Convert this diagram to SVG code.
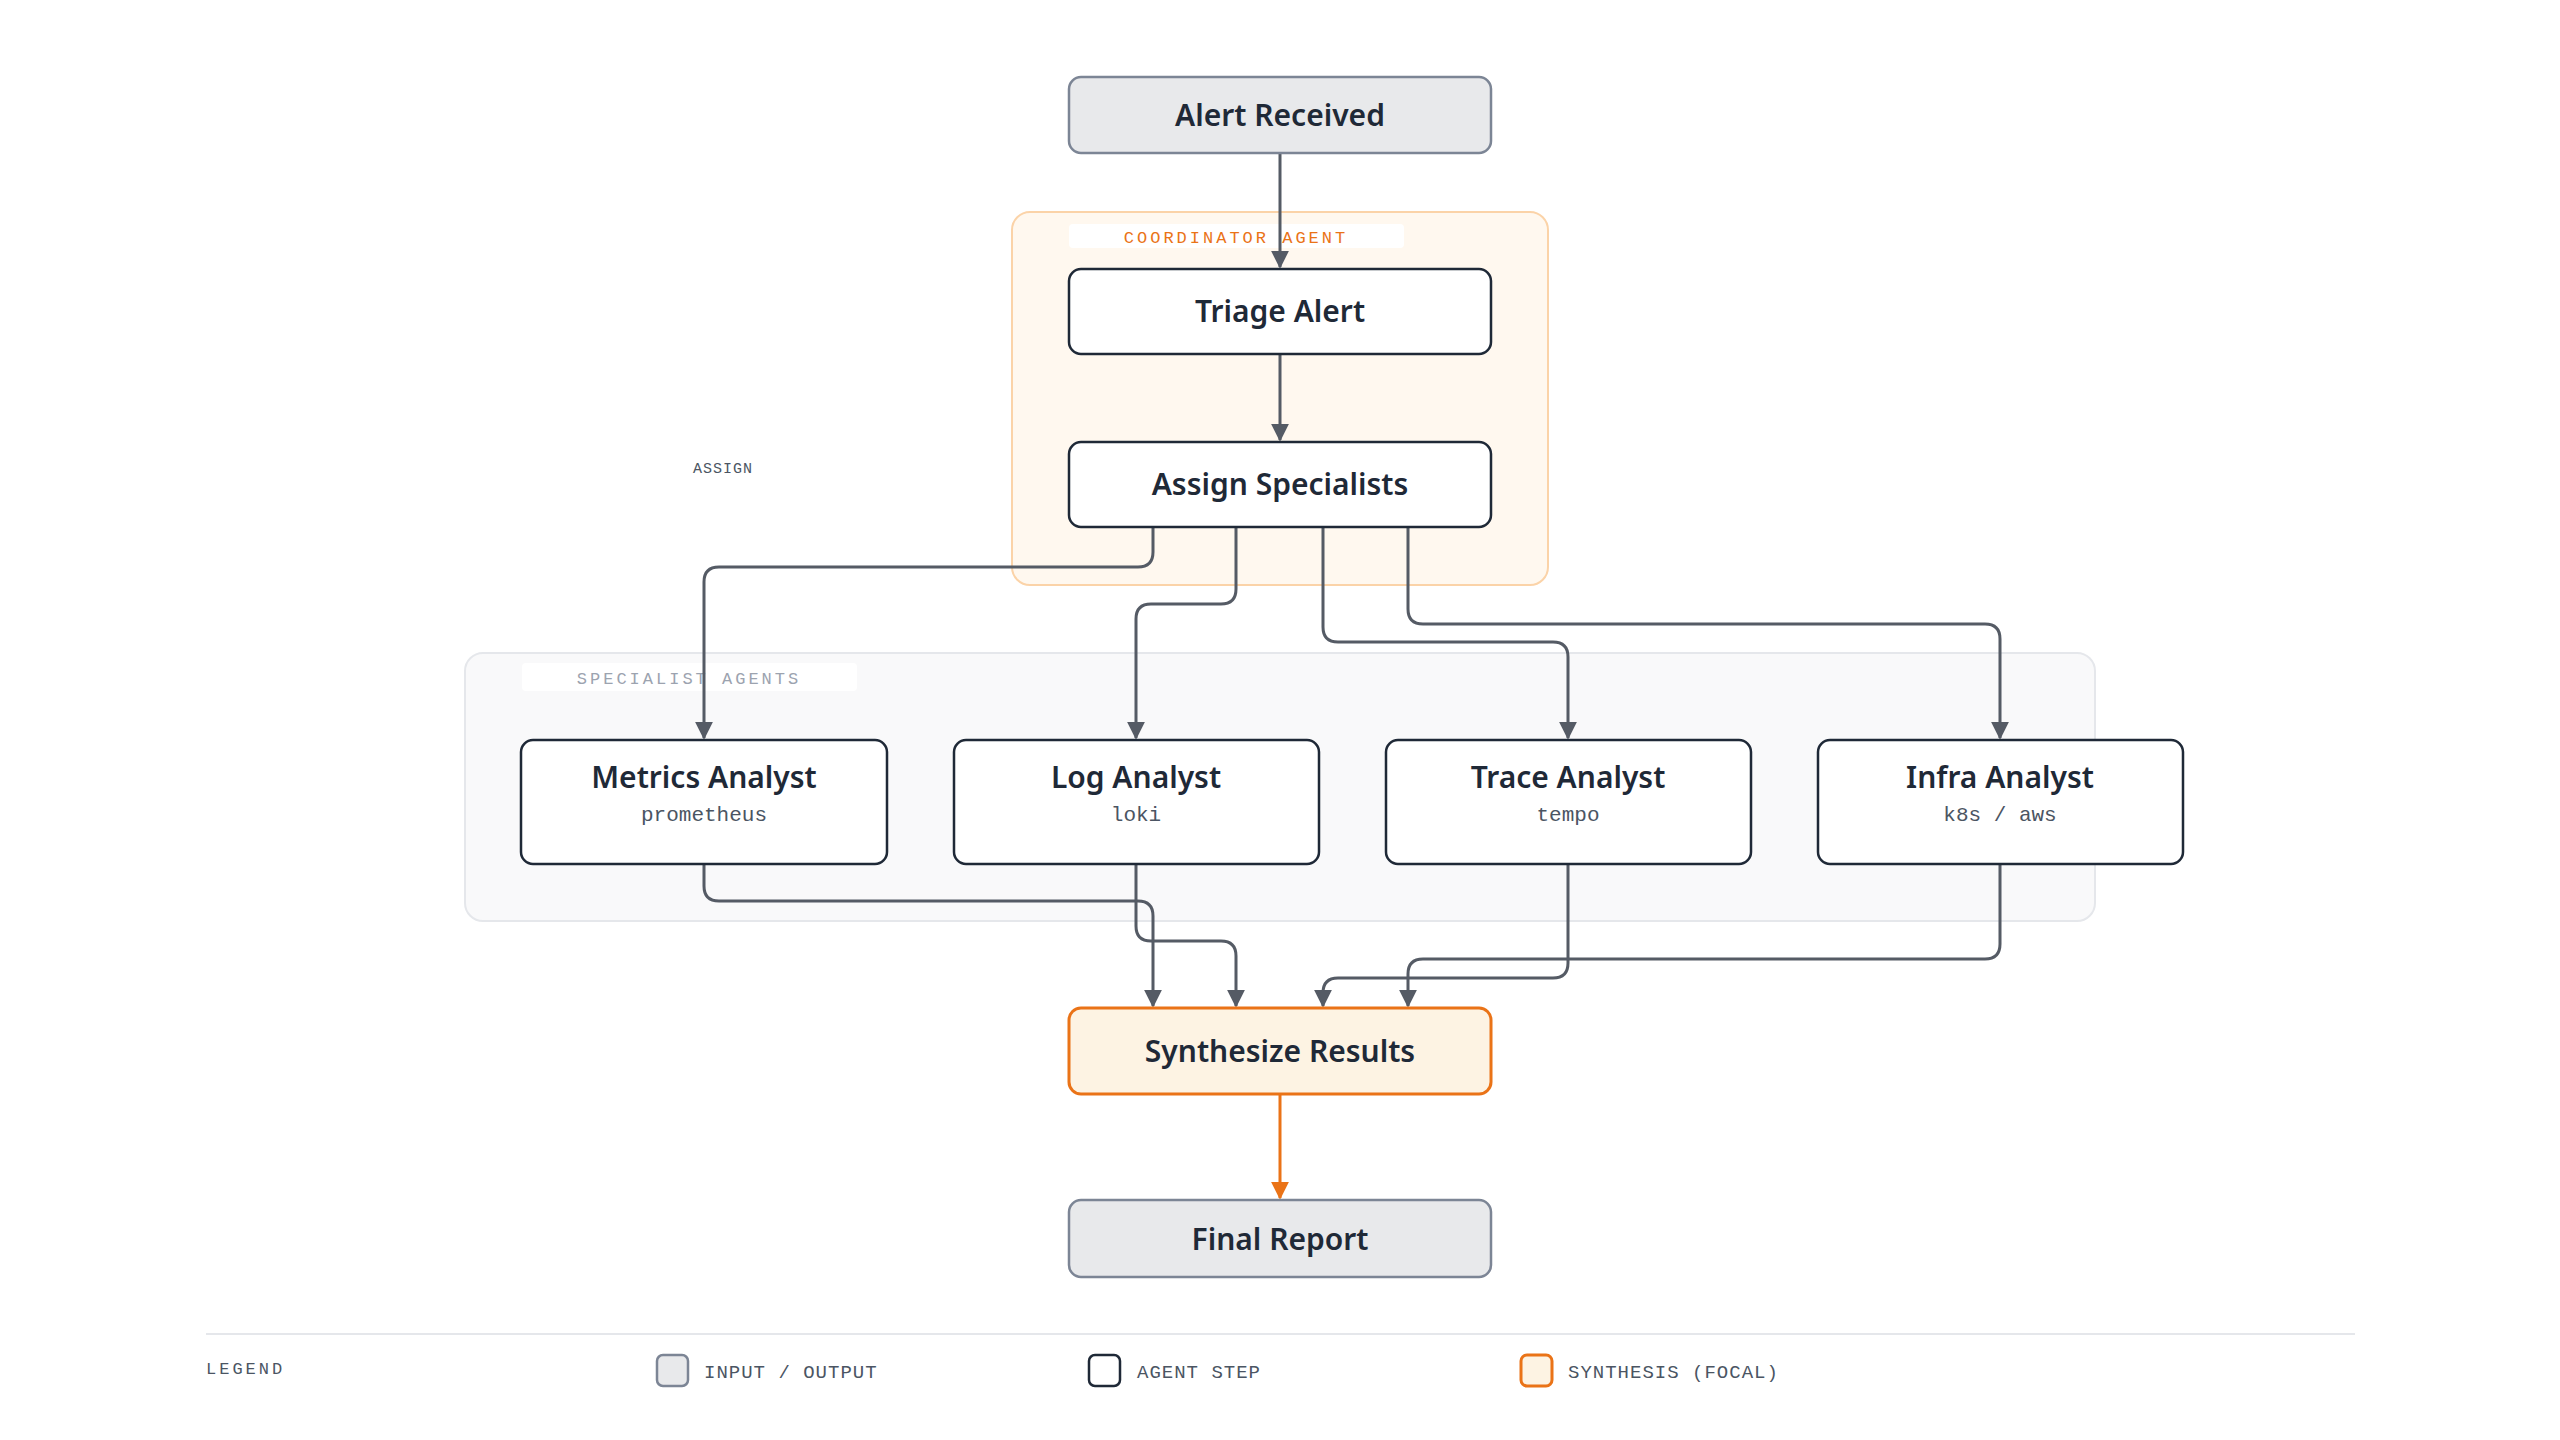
<svg xmlns="http://www.w3.org/2000/svg" width="2560" height="1440" viewBox="0 0 2560 1440">
<style>
.t{font-family:"Noto Sans","Liberation Sans",sans-serif;font-weight:600;font-size:30px;fill:#1f2937;text-anchor:middle}
.s{font-family:"Liberation Mono","DejaVu Sans Mono",monospace;font-size:21px;fill:#4b5563;text-anchor:middle}
.lb{font-family:"Liberation Mono","DejaVu Sans Mono",monospace;font-size:17px;letter-spacing:3px}
.io{fill:#e8e9eb;stroke:#7c8595;stroke-width:2.5}
.ag{fill:#fff;stroke:#1f2937;stroke-width:2.5}
.fo{fill:#fdf3e3;stroke:#ea7317;stroke-width:3}
.c{fill:none;stroke:#555b65;stroke-width:3;stroke-linejoin:round}
</style>
<defs>
<marker id="a" viewBox="0 0 10 10" refX="9" refY="5" markerWidth="6" markerHeight="6" orient="auto"><path d="M0,0L10,5L0,10z" fill="#555b65"/></marker>
<marker id="o" viewBox="0 0 10 10" refX="9" refY="5" markerWidth="6" markerHeight="6" orient="auto"><path d="M0,0L10,5L0,10z" fill="#ea7317"/></marker>
</defs>
<rect width="2560" height="1440" fill="#fff"/>
<g id="coordinator-group">
<rect x="1012" y="212" width="536" height="373" rx="18" fill="#fff8ef" stroke="#fbd3a8" stroke-width="2"/>
<rect x="1069" y="224" width="335" height="24" rx="4" fill="#fff"/>
<text x="1236" y="243" class="lb" fill="#ea7317" text-anchor="middle">COORDINATOR AGENT</text>
</g>
<g id="specialist-group">
<rect x="465" y="653" width="1630" height="268" rx="18" fill="#f9f9fa" stroke="#e5e7eb" stroke-width="2"/>
<rect x="522" y="663" width="335" height="28" rx="4" fill="#fff"/>
<text x="689" y="684" class="lb" fill="#9ca3af" text-anchor="middle">SPECIALIST AGENTS</text>
</g>
<text x="723" y="473" class="lb" font-size="15" fill="#4b5563" text-anchor="middle" style="font-size:15px;letter-spacing:1px">ASSIGN</text>
<g id="connectors">
<path class="c" marker-end="url(#a)" d="M1280,153V267"/>
<path class="c" marker-end="url(#a)" d="M1280,354V440"/>
<path class="c" marker-end="url(#a)" d="M1153,527V552Q1153,567 1138,567H719Q704,567 704,582V738"/>
<path class="c" marker-end="url(#a)" d="M1236,527V589Q1236,604 1221,604H1151Q1136,604 1136,619V738"/>
<path class="c" marker-end="url(#a)" d="M1323,527V627Q1323,642 1338,642H1553Q1568,642 1568,657V738"/>
<path class="c" marker-end="url(#a)" d="M1408,527V609Q1408,624 1423,624H1985Q2000,624 2000,639V738"/>
<path class="c" marker-end="url(#a)" d="M704,864V886Q704,901 719,901H1138Q1153,901 1153,916V1006"/>
<path class="c" marker-end="url(#a)" d="M1136,864V926Q1136,941 1151,941H1221Q1236,941 1236,956V1006"/>
<path class="c" marker-end="url(#a)" d="M1568,864V963Q1568,978 1553,978H1338Q1323,978 1323,993V1006"/>
<path class="c" marker-end="url(#a)" d="M2000,864V944Q2000,959 1985,959H1423Q1408,959 1408,974V1006"/>
<path class="c" style="stroke:#ea7317" marker-end="url(#o)" d="M1280,1094V1198"/>
</g>
<g id="alert-received"><rect class="io" x="1069" y="77" width="422" height="76" rx="12"/><text class="t" x="1280" y="126">Alert Received</text></g>
<g id="triage-alert"><rect class="ag" x="1069" y="269" width="422" height="85" rx="12"/><text class="t" x="1280" y="322">Triage Alert</text></g>
<g id="assign-specialists"><rect class="ag" x="1069" y="442" width="422" height="85" rx="12"/><text class="t" x="1280" y="495">Assign Specialists</text></g>
<g id="metrics-analyst"><rect class="ag" x="521" y="740" width="366" height="124" rx="12"/><text class="t" x="704" y="788">Metrics Analyst</text><text class="s" x="704" y="821">prometheus</text></g>
<g id="log-analyst"><rect class="ag" x="954" y="740" width="365" height="124" rx="12"/><text class="t" x="1136" y="788">Log Analyst</text><text class="s" x="1136" y="821">loki</text></g>
<g id="trace-analyst"><rect class="ag" x="1386" y="740" width="365" height="124" rx="12"/><text class="t" x="1568" y="788">Trace Analyst</text><text class="s" x="1568" y="821">tempo</text></g>
<g id="infra-analyst"><rect class="ag" x="1818" y="740" width="365" height="124" rx="12"/><text class="t" x="2000" y="788">Infra Analyst</text><text class="s" x="2000" y="821">k8s / aws</text></g>
<g id="synthesize-results"><rect class="fo" x="1069" y="1008" width="422" height="86" rx="12"/><text class="t" x="1280" y="1062">Synthesize Results</text></g>
<g id="final-report"><rect class="io" x="1069" y="1200" width="422" height="77" rx="12"/><text class="t" x="1280" y="1250">Final Report</text></g>
<g id="legend">
<line x1="206" y1="1334" x2="2355" y2="1334" stroke="#e5e7eb" stroke-width="2"/>
<text x="206" y="1374" class="lb" fill="#4b5563">LEGEND</text>
<rect class="io" x="657" y="1355" width="31" height="31" rx="6"/>
<text x="704" y="1378" class="lb" fill="#4b5563" style="letter-spacing:1px;font-size:19px">INPUT / OUTPUT</text>
<rect class="ag" x="1089" y="1355" width="31" height="31" rx="6"/>
<text x="1137" y="1378" class="lb" fill="#4b5563" style="letter-spacing:1px;font-size:19px">AGENT STEP</text>
<rect class="fo" x="1521" y="1355" width="31" height="31" rx="6"/>
<text x="1568" y="1378" class="lb" fill="#4b5563" style="letter-spacing:1px;font-size:19px">SYNTHESIS (FOCAL)</text>
</g>
</svg>
